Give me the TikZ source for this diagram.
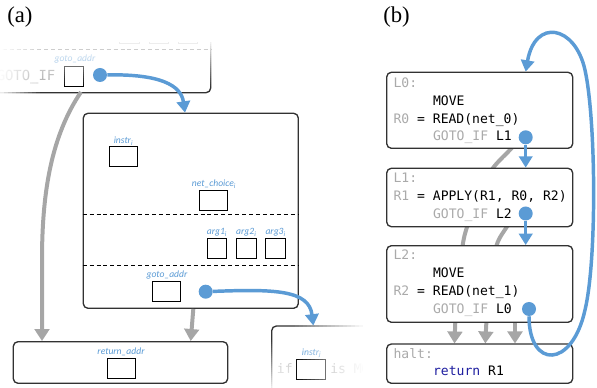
\documentclass[tikz,border=0pt]{standalone}
\usepackage{fontspec}
\setmainfont{Liberation Serif}
\newfontfamily\codefont{DejaVu Sans Mono}
\newfontfamily\labfont{Carlito}
\usetikzlibrary{arrows.meta}
\definecolor{bl}{RGB}{91,155,213}
\definecolor{gr}{RGB}{166,166,166}
\definecolor{cgray}{RGB}{170,170,170}
\definecolor{edge}{RGB}{50,50,50}
\definecolor{kw}{RGB}{30,30,160}
\tikzset{
 bigbox/.style={draw=edge, line width=1pt, rounded corners=3.5pt, fill=white, inner sep=0},
 slot/.style={draw=black, line width=0.75pt, inner sep=0},
 lab/.style={text=bl, font=\labfont\itshape\fontsize{7.2}{8}\selectfont, inner sep=0},
 code/.style={font=\codefont\fontsize{9.8}{12}\selectfont, inner sep=0, anchor=base west},
 bluearrow/.style={draw=bl, line width=2.6pt, -{Triangle[width=10pt,length=8.5pt]}},
 grayarrow/.style={draw=gr, line width=3pt, -{Triangle[width=11pt,length=9pt]}},
 dot/.style={circle, fill=bl, minimum size=10.5pt, inner sep=0},
 sepline/.style={draw=black, dash pattern=on 3pt off 2.2pt, line width=0.75pt},
 panel/.style={font=\fontsize{17}{20}\selectfont, inner sep=0, anchor=base west},
}
\begin{document}
\begin{tikzpicture}[x=0.75pt,y=-0.75pt]
\useasboundingbox (0,0) rectangle (597,388);

\node[panel] (pa) at (7,23) {(a)};
\node[panel] (pb) at (383,23) {(b)};

% ---------- faded previous box (top)
\begin{scope}
\clip (0,34) rectangle (216,96);
\draw[bigbox] (-4.3,-102) rectangle (210.7,92.7);
\draw[sepline] (-4.3,50) -- (210.7,50);
\foreach \x in {119.7,149,178.4} \draw[slot] (\x,23.4) rectangle ++(19.4,20);
\node[lab] (pgl) at (75,58.5) {goto\_addr};
\node[code,text=cgray,font=\codefont\fontsize{10.4}{12}\selectfont] (pgoto) at (-3.5,80.5) {GOTO\_IF};
\draw[slot] (64,66.7) rectangle (83.5,86.5);
\end{scope}
\fill[white] (0,33) rectangle (217,42);
\foreach \i in {0,...,21}{\pgfmathsetmacro\op{0.93-0.93*\i/22}
  \fill[white,opacity=\op] (0,{42+2*\i}) rectangle (217,{44+2*\i});}
\foreach \i in {0,...,9}{\pgfmathsetmacro\op{0.9-\i/11}
  \fill[white,opacity=\op] ({4*\i},42) rectangle ({4*\i+4},96);}

% ---------- main box
\node[bigbox, minimum width=161.25pt, minimum height=146.25pt] (main) at (190.8,210.8) {};
\draw[sepline] (main.west |- 0,215) -- (main.east |- 0,215);
\draw[sepline] (main.west |- 0,265.7) -- (main.east |- 0,265.7);
\node[slot, minimum width=21.3pt, minimum height=14.7pt] (sinstr) at (123.5,156.5) {};
\node[lab] (linstr) at (123.5,141) {instr\textsubscript{\itshape i}};
\node[slot, minimum width=21.3pt, minimum height=14.7pt] (snet) at (213.5,200.5) {};
\node[lab] (lnet) at (214,184) {net\_choice\textsubscript{\itshape i}};
\node[slot, minimum width=14.55pt, minimum height=15pt] (sa1) at (217,249) {};
\node[slot, minimum width=14.55pt, minimum height=15pt] (sa2) at (246.35,249) {};
\node[slot, minimum width=14.55pt, minimum height=15pt] (sa3) at (275.65,249) {};
\node[lab] (la1) at (217,232.7) {arg1\textsubscript{\itshape i}};
\node[lab] (la2) at (246.35,232.7) {arg2\textsubscript{\itshape i}};
\node[lab] (la3) at (275.65,232.7) {arg3\textsubscript{\itshape i}};
\node[slot, minimum width=21pt, minimum height=14.8pt] (sgoto) at (166.3,291.15) {};
\node[lab] (lgoto) at (167,274.5) {goto\_addr};

% ---------- return box
\node[bigbox, minimum width=160.8pt, minimum height=31.2pt] (ret) at (120.5,362.5) {};
\node[slot, minimum width=21.5pt, minimum height=15pt] (sret) at (121.65,369) {};
\node[lab] (lret) at (121,351.7) {return\_addr};

% ---------- faded next box (bottom right)
\begin{scope}
\clip (266,322) rectangle (379,388);
\draw[bigbox] (271.7,326) rectangle (450,430);
\node[lab] (lnext) at (311.7,353) {instr\textsubscript{\itshape j}};
\node[code,text=cgray] (nif) at (276.7,374) {if};
\draw[slot] (296.7,360) rectangle (325,380);
\node[code,text=cgray] (nis) at (330,374) {is MOVE};
\end{scope}
\foreach \i in {0,...,17}{\pgfmathsetmacro\op{(\i+1)/18}
  \fill[white,opacity=\op] ({295+4*\i},322) rectangle ({299+4*\i},388);}
\fill[white] (366,322) rectangle (380,388);
\foreach \i in {0,...,23}{\pgfmathsetmacro\op{0.9*(\i+1)/24}
  \fill[white,opacity=\op] (266,{340+2*\i}) rectangle (295,{342+2*\i});}

% ---------- connectors (a)
\coordinate (prevout) at (81,92);
\coordinate (gx1) at (42,0);
\draw[grayarrow] (prevout) .. controls (52,135) and (42,190) .. (42,260) -- (ret.north -| gx1);
\coordinate (gx2a) at (193.3,0);
\coordinate (gx2b) at (190.7,0);
\draw[grayarrow] (main.south -| gx2a) -- (ret.north -| gx2b);

\node[dot] (dtop) at (100,75) {};
\draw[bluearrow] (dtop) .. controls (160,74) and (181,85) .. ([xshift=-4.35pt]main.north);
\node[dot] (dgoto) at (205.7,291.7) {};
\coordinate (nexttop) at (313.3,325.5);
\draw[bluearrow] (dgoto) .. controls (275,289) and (309,290) .. (nexttop);

% ---------- panel (b)
\draw[grayarrow] plot[smooth] coordinates {(520,136) (511.7,148) (493,168) (478,195) (467,227) (462.7,245) (457,290) (454.5,343.5)};
\draw[grayarrow] plot[smooth] coordinates {(514,215) (506.7,227) (496.7,245) (489,285) (485.3,343.5)};
\draw[grayarrow] (515,318) -- (515,343.5);

\node[bigbox, minimum width=139.5pt, minimum height=57pt] (L0) at (479.7,110.3) {};
\node[bigbox, minimum width=139.5pt, minimum height=43.8pt] (L1) at (479.7,197.5) {};
\node[bigbox, minimum width=139.5pt, minimum height=57.45pt] (L2) at (479.7,284) {};
\node[bigbox, minimum width=139.5pt, minimum height=29.5pt] (halt) at (479.7,363.65) {};

\node[code,text=cgray] (t0a) at (393.3,88) {L0:};
\node[code] (t0b) at (432.8,105.7) {MOVE};
\node[code] (t0c) at (393.3,123.7) {\textcolor{cgray}{R0} = READ(net\_0)};
\node[code] (t0d) at (432.8,141) {\textcolor{cgray}{GOTO\_IF} L1};

\node[code,text=cgray] (t1a) at (393.3,182.7) {L1:};
\node[code] (t1b) at (393.3,200.5) {\textcolor{cgray}{R1} = APPLY(R1, R0, R2)};
\node[code] (t1c) at (432.8,218.5) {\textcolor{cgray}{GOTO\_IF} L2};

\node[code,text=cgray] (t2a) at (393.3,260) {L2:};
\node[code] (t2b) at (432.8,277.3) {MOVE};
\node[code] (t2c) at (393.3,295.5) {\textcolor{cgray}{R2} = READ(net\_1)};
\node[code] (t2d) at (432.8,313.3) {\textcolor{cgray}{GOTO\_IF} L0};

\node[code,text=cgray] (t3a) at (393.3,358.3) {halt:};
\node[code] (t3b) at (432.8,376) {\textcolor{kw}{return} R1};

\node[dot] (b0) at (525.7,137.3) {};
\node[dot] (b1) at (525.7,213.5) {};
\node[dot] (b2) at (529,309) {};
\draw[bluearrow] (b0) -- (b0 |- L1.north);
\draw[bluearrow] (b1) -- (b1 |- L2.north);
\draw[bluearrow] (b2) .. controls (529,369) and (572,369) .. (585,310)
  .. controls (597,260) and (596,120) .. (585,70)
  .. controls (575,25) and (535,18) .. (L0.north -| b0);
\end{tikzpicture}
\end{document}
